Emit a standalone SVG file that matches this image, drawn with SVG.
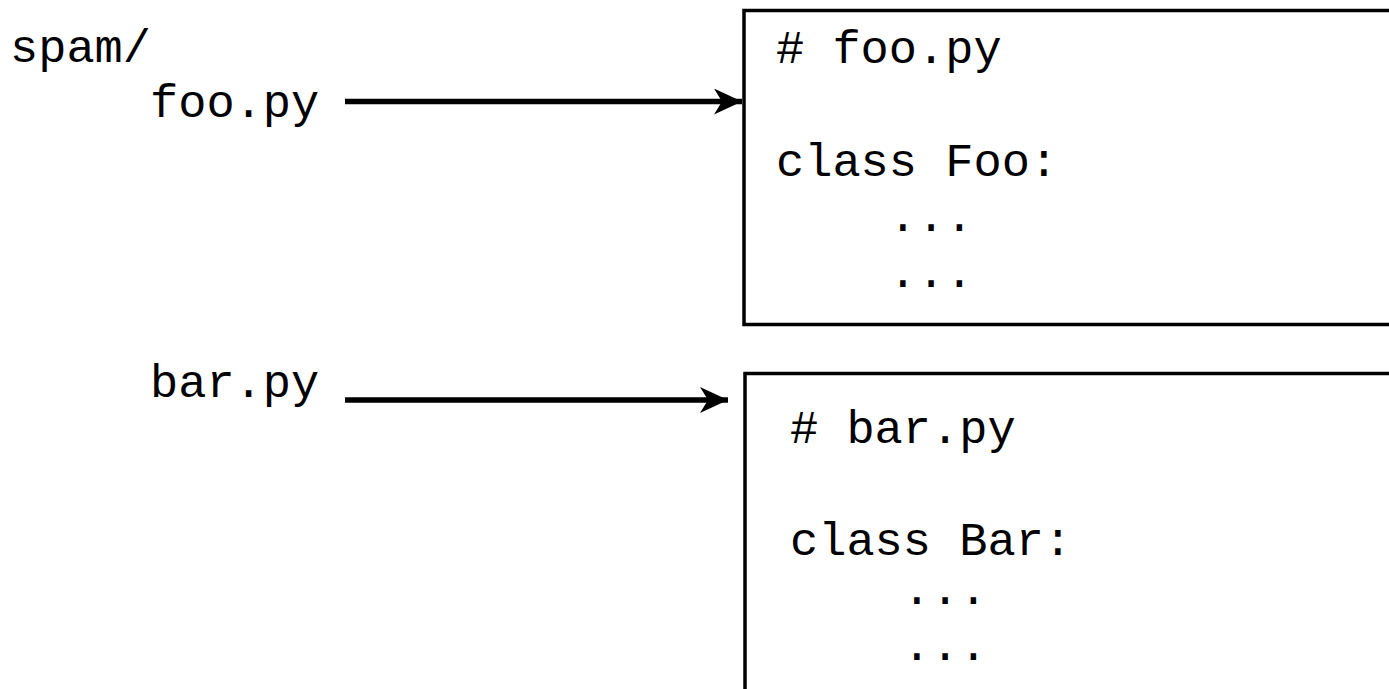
<svg xmlns="http://www.w3.org/2000/svg" width="1389" height="689" viewBox="0 0 1389 689">
<style>
text { font-family: "Liberation Mono", "Courier New", monospace; font-size: 47px; fill: #000; white-space: pre; }
.box { fill: #fff; stroke: #000; stroke-width: 3.5; }
.conn { stroke: #000; stroke-width: 5.5; fill: none; }
</style>
<defs>
<marker id="arrow" markerUnits="userSpaceOnUse" markerWidth="30" markerHeight="28" refX="28" refY="13" orient="auto" viewBox="0 0 30 28">
<path d="M0,0 L28,13 L0,26 L8,13 Z" fill="#000"/>
</marker>
</defs>
<rect width="1389" height="689" fill="#fff"/>
<g id="tree">
<text x="10" y="62">spam/</text>
<text x="150" y="117">foo.py</text>
<text x="150" y="397">bar.py</text>
</g>
<g id="foo-box">
<rect class="box" x="744" y="10.5" width="700" height="314"/>
<text x="776" y="63"># foo.py</text>
<text x="776" y="176">class Foo:</text>
<text x="776" y="231" xml:space="preserve">    ...</text>
<text x="776" y="287" xml:space="preserve">    ...</text>
</g>
<g id="bar-box">
<rect class="box" x="745" y="373.5" width="700" height="400"/>
<text x="790" y="443"># bar.py</text>
<text x="790" y="555">class Bar:</text>
<text x="790" y="604" xml:space="preserve">    ...</text>
<text x="790" y="660" xml:space="preserve">    ...</text>
</g>
<g id="connectors">
<line class="conn" x1="345" y1="101.5" x2="742" y2="101.5" marker-end="url(#arrow)"/>
<line class="conn" x1="345" y1="400" x2="728" y2="400" marker-end="url(#arrow)"/>
</g>
</svg>
